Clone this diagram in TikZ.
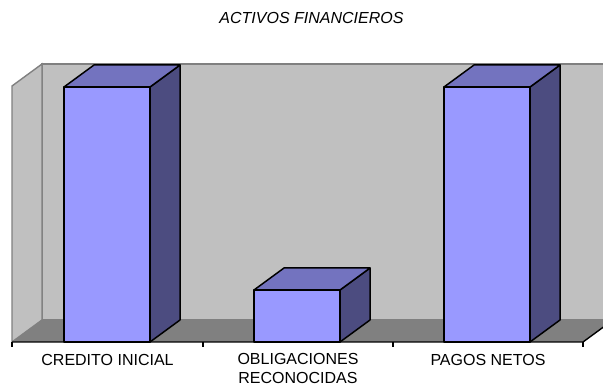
\documentclass[tikz,border=0pt]{standalone}
\usepackage{fontspec}
\setmainfont{Liberation Sans}
\definecolor{wallc}{HTML}{C0C0C0}
\definecolor{edgec}{HTML}{808080}
\definecolor{floorc}{HTML}{808080}
\definecolor{frontc}{HTML}{9999FF}
\definecolor{topc}{HTML}{7373BF}
\definecolor{sidec}{HTML}{4C4C80}
\tikzset{
  wall/.style={fill=wallc, draw=edgec, line width=1.4pt, line join=miter},
  floorface/.style={fill=floorc, draw=none},
  barface/.style={draw=black, line width=1.5pt, line join=round},
  axisline/.style={draw=black, line width=1.4pt},
  lbl/.style={font=\fontsize{16}{19}\selectfont, anchor=base, inner sep=0pt},
}
\begin{document}
\begin{tikzpicture}[x=1pt,y=-1pt]
\useasboundingbox (0,0) rectangle (603,387);
\clip (0,0) rectangle (603,387);
% walls
\path[wall] (42,64) -- (640,64) -- (640,320) -- (42,320) -- cycle;
\path[wall] (12,86) -- (42,64) -- (42,320) -- (12,342) -- cycle;
% floor
\path[floorface] (12,342) -- (583,342) -- (613,320) -- (42,320) -- cycle;
\draw[edgec, line width=1pt] (42,320) -- (640,320);
% axis
\draw[axisline] (12,342) -- (583,342) -- (613,320);
\foreach \x in {12,203,393,583} \draw[black, line width=1.2pt] (\x,342) -- (\x,347);
% bars
\foreach \l/\t in {64/87, 254/290, 444/87} {
  \pgfmathsetmacro{\r}{\l+86}
  \pgfmathsetmacro{\bl}{\l+30}
  \pgfmathsetmacro{\br}{\r+30}
  \pgfmathsetmacro{\bt}{\t-22}
  \path[barface, fill=sidec] (\r,\t) -- (\br,\bt) -- (\br,320) -- (\r,342) -- cycle;
  \path[barface, fill=topc] (\l,\t) -- (\bl,\bt) -- (\br,\bt) -- (\r,\t) -- cycle;
  \path[barface, fill=frontc] (\l,\t) rectangle (\r,342);
}
% labels
\node[lbl, font=\fontsize{16}{19}\selectfont\itshape] (title) at (311.5,24) {ACTIVOS FINANCIEROS};
\node[lbl] (c1) at (107.5,366) {CREDITO INICIAL};
\node[lbl] (c2a) at (298,365) {OBLIGACIONES};
\node[lbl] (c2b) at (298,384) {RECONOCIDAS};
\node[lbl] (c3) at (488,366) {PAGOS NETOS};
\end{tikzpicture}
\end{document}
